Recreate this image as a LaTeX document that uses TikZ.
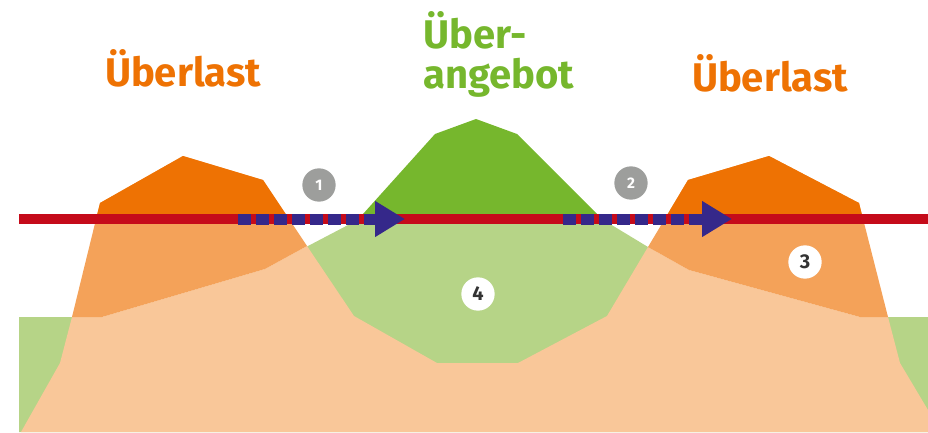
\documentclass[tikz,border=0pt]{standalone}
\usepackage{fontspec}
\setmainfont{Fira Sans}
\usetikzlibrary{arrows.meta}
\definecolor{overdark}{HTML}{EE7203}
\definecolor{overmid}{HTML}{F4A259}
\definecolor{demand}{HTML}{F9C799}
\definecolor{supplydark}{HTML}{76B72D}
\definecolor{supplylight}{HTML}{B6D487}
\definecolor{capred}{HTML}{C50B1A}
\definecolor{flowblue}{HTML}{35288A}
\definecolor{numgrey}{HTML}{9D9E9C}
\definecolor{numtext}{HTML}{333333}

\begin{document}
\begin{tikzpicture}[
    x=0.75pt, y=-0.75pt,
    title/.style={font=\fontsize{30}{30}\selectfont\bfseries, text=#1},
    num/.style={circle, fill=numgrey, text=white, minimum size=25pt, inner sep=0pt, font=\fontsize{11.5}{11.5}\selectfont\bfseries},
    numwhite/.style={circle, fill=white, text=numtext, minimum size=25pt, inner sep=0pt, font=\fontsize{15}{15}\selectfont\bfseries},
    capacity/.style={draw=capred, line width=7.5pt},
    flow/.style={draw=flowblue, line width=8.25pt, dash pattern=on 9.5pt off 4pt, -{Triangle[length=22.5pt, width=25.5pt]}},
]
    \useasboundingbox (0,0) rectangle (928,432);

    % Areas from back to front
    \fill[supplylight] (19,432) -- (19,317) -- (200,317) -- (308,246) -- (350,224) -- (610,224) -- (648,247) -- (750,317) -- (928,317) -- (928,432) -- cycle;
    \fill[demand] (21,432) -- (60,363) -- (72,317) -- (102,317) -- (265,269) -- (307,246) -- (354,316) -- (437,363) -- (518,363) -- (607,316) -- (648,247) -- (689,270) -- (860,317) -- (888,317) -- (900,363) -- (928,410) -- (928,432) -- cycle;
    \fill[overmid] (72,317) -- (100,203) -- (183,156) -- (263,180) -- (307,246) -- (265,269) -- (102,317) -- cycle;
    \fill[overmid] (648,247) -- (688,180) -- (769,156) -- (859,203) -- (888,317) -- (860,317) -- (689,270) -- cycle;

    % Parts above the capacity line
    \begin{scope}
        \clip (0,0) rectangle (928,219);
        \fill[overdark] (72,317) -- (100,203) -- (183,156) -- (263,180) -- (307,246) -- cycle;
        \fill[overdark] (648,247) -- (688,180) -- (769,156) -- (859,203) -- (888,317) -- cycle;
        \fill[supplydark] (354,224) -- (435,134) -- (476,119) -- (517,134) -- (607,224) -- cycle;
    \end{scope}

    % Capacity line and flows
    \coordinate (capL) at (19,219);
    \coordinate (capR) at (928,219);
    \draw[capacity] (capL) -- (capR);
    \coordinate (flowAs) at (238,219);
    \coordinate (flowAe) at (405,219);
    \coordinate (flowBs) at (563,219);
    \coordinate (flowBe) at (732,219);
    \draw[flow] (flowAs) -- (flowAe);
    \draw[flow] (flowBs) -- (flowBe);

    % Labels
    \node[title=overdark, anchor=base] (lastL) at (183,86) {Überlast};
    \node[title=overdark, anchor=base] (lastR) at (770,91) {Überlast};
    \node[title=supplydark, anchor=base west, align=left, inner xsep=0pt] (angebot) at (423,88) {Über-\\angebot};

    \node[num] (n1) at (319,185) {1};
    \node[num] (n2) at (631,183) {2};
    \node[numwhite] (n3) at (805,262) {3};
    \node[numwhite] (n4) at (478,294) {4};
\end{tikzpicture}
\end{document}
